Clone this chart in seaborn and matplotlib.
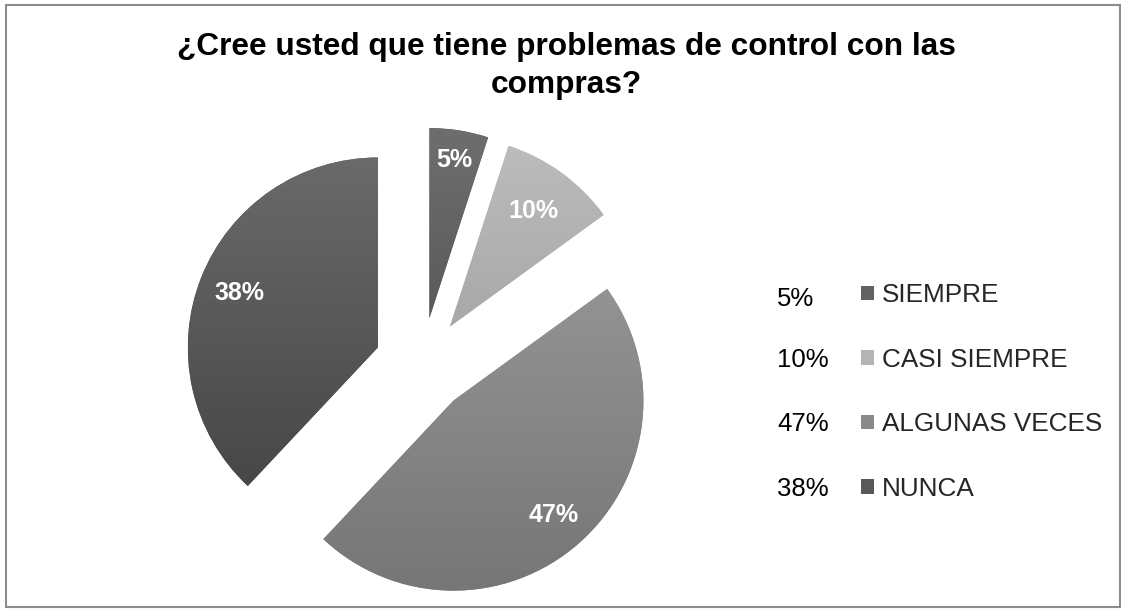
import numpy as np
import matplotlib
matplotlib.use("Agg")
import matplotlib.pyplot as plt
import matplotlib.colors as mcolors
from matplotlib.patches import Rectangle, Patch
import seaborn as sns

# ---- data ----
categories = ["SIEMPRE", "CASI SIEMPRE", "ALGUNAS VECES", "NUNCA"]
values = [5, 10, 47, 38]
pct_labels = ["5%", "10%", "47%", "38%"]
title = "¿Cree usted que tiene problemas de control con las\ncompras?"

# ---- styles ----
top_colors = ["#6e6e6e", "#bcbcbc", "#939393", "#6a6a6a"]
bottom_colors = ["#5a5a5a", "#a8a8a8", "#767676", "#474747"]
legend_colors = ["#626262", "#b4b4b4", "#898989", "#585858"]
label_scale = [1.05, 0.94, 1.0, 0.98]

sns.set_theme(style="white")
plt.rcParams['font.family'] = ['Liberation Sans', 'DejaVu Sans']

W, H = 1121, 609
fig = plt.figure(figsize=(W / 100, H / 100), dpi=100)
fig.patch.set_facecolor("white")

# pie axes placement (pixels)
cx, cy, r = 422, 365, 190
L = 1.3
S = 2 * L * r
ax = fig.add_axes([(cx - S / 2) / W, (H - cy - S / 2) / H, S / W, S / H])

palette = sns.color_palette(legend_colors)
wedges, texts, autotexts = ax.pie(
    values, colors=palette, startangle=90, counterclock=False,
    explode=[0.25] * len(values),
    autopct=lambda p: f"{p:.0f}%", pctdistance=0.8,
    wedgeprops=dict(linewidth=0, edgecolor="none"),
    textprops=dict(color="white", fontsize=18, fontweight="bold"))
ax.set_xlim(-L, L)
ax.set_ylim(-L, L)
ax.set_aspect("equal")
ax.axis("off")

# gradient fill for each wedge
inv = ax.transData.inverted()
for w, ct, cb in zip(wedges, top_colors, bottom_colors):
    ext = w.get_extents()
    (x0, y0), (x1, y1) = inv.transform([[ext.x0, ext.y0], [ext.x1, ext.y1]])
    t = np.linspace(0, 1, 256)[:, None]
    c0 = np.array(mcolors.to_rgb(ct))
    c1 = np.array(mcolors.to_rgb(cb))
    grad = (c0[None, :] * (1 - t) + c1[None, :] * t)[:, None, :]
    im = ax.imshow(grad, extent=(x0, x1, y0, y1), origin="upper",
                   aspect="auto", zorder=1.5, interpolation="bilinear")
    im.set_clip_path(w)
ax.set_xlim(-L, L)
ax.set_ylim(-L, L)
for at, w, k in zip(autotexts, wedges, label_scale):
    wx, wy = w.center
    px, py = at.get_position()
    at.set_position((wx + (px - wx) * k, wy + (py - wy) * k))
    at.set_zorder(5)

# title
fig.text(566 / W, 1 - 66 / H, title, ha="center", va="center",
         fontsize=22.8, fontweight="bold", color="black", linespacing=1.33)

# legend
handles = [Patch(facecolor=c, edgecolor="none") for c in legend_colors]
leg = fig.legend(handles, categories, loc="center left",
                 bbox_to_anchor=(848 / W, 1 - 392 / H), frameon=False,
                 fontsize=18.8, handlelength=0.5, handleheight=0.5,
                 handletextpad=0.3, labelspacing=1.55, borderpad=0)

fig.canvas.draw()
renderer = fig.canvas.get_renderer()
for i, (txt, lab) in enumerate(zip(leg.get_texts(), pct_labels)):
    bb = txt.get_window_extent(renderer)
    ymid = (bb.y0 + bb.y1) / 2 - (4 if i == 0 else 0)
    fig.text(777 / W, ymid / H, lab, ha="left", va="center",
             fontsize=18.5, color="black")

# chart border
fig.add_artist(Rectangle((6 / W, 2 / H), (W - 7) / W, (H - 7) / H,
                         transform=fig.transFigure, fill=False,
                         edgecolor="#8c8c8c", linewidth=1.5))

fig.savefig("out.png", dpi=100)
